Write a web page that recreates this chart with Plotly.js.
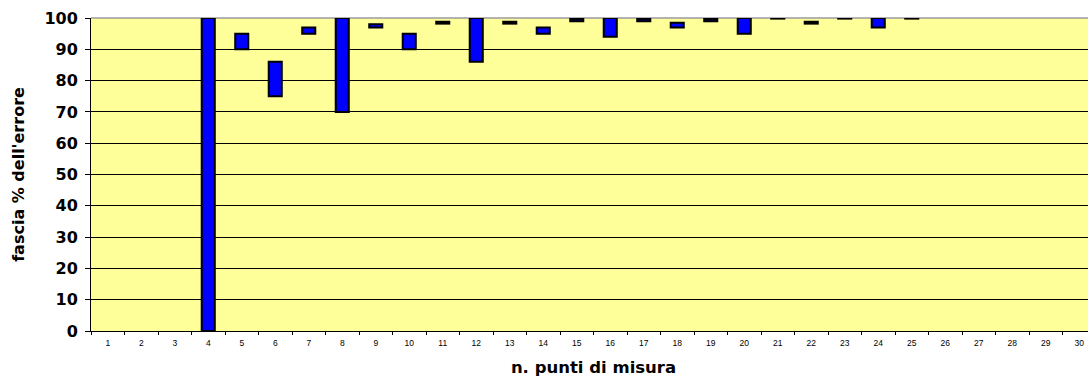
<!DOCTYPE html>
<html>
<head>
<meta charset="utf-8">
<script src="https://cdn.plot.ly/plotly-3.0.1.min.js"></script>
<style>
html, body { margin: 0; padding: 0; overflow: hidden; background: #fff; }
#chart { width: 1100px; height: 381px; }
</style>
</head>
<body>
<div id="chart"></div>
<script>
// n. punti di misura (categories)
var points = ["1","2","3","4","5","6","7","8","9","10","11","12","13","14","15","16","17","18","19","20","21","22","23","24","25","26","27","28","29","30"];
// lower end of error band (%)
var bandLow  = [null,null,null,0,90,75,95,70,97,90,98.2,86,98.2,95,99,94,99,97,99,95,99.8,98.2,99.8,97,99.8,null,null,null,null,null];
// upper end of error band (%)
var bandHigh = [null,null,null,100,95,86,97,100,98,95,98.8,100,98.8,97,99.7,100,99.7,98.5,99.7,100,100,98.8,100,100,100,null,null,null,null,null];
var yTicks = [0,10,20,30,40,50,60,70,80,90,100];

var heights = bandHigh.map(function(h, i){ return (h === null || bandLow[i] === null) ? null : h - bandLow[i]; });

var boldFont = 'DejaVu Sans, Liberation Sans, Arial, sans-serif';

var trace = {
  type: 'bar',
  x: points,
  y: heights,
  base: bandLow,
  width: 0.39,
  marker: { color: '#0000FF', line: { color: '#000000', width: 2 } },
  hoverinfo: 'x+y'
};

var layout = {
  width: 1100,
  height: 381,
  margin: { l: 91, r: 4, t: 18, b: 50 },
  paper_bgcolor: '#FFFFFF',
  plot_bgcolor: '#FFFF99',
  showlegend: false,
  font: { family: 'Liberation Sans, Arial, sans-serif', color: '#000' },
  xaxis: {
    type: 'category',
    categoryorder: 'array',
    categoryarray: points,
    range: [-0.5, 29.5],
    tickson: 'boundaries',
    ticks: 'outside',
    ticklen: 3,
    tickwidth: 1,
    tickcolor: '#000',
    showline: true,
    linecolor: '#000',
    linewidth: 1,
    showgrid: false,
    tickfont: { size: 8.5, family: 'Liberation Sans, Arial, sans-serif', color: '#000' },
    ticklabelstandoff: 4,
    title: { text: 'n. punti di misura', font: { size: 16.5, family: boldFont, weight: 'bold', color: '#000' }, standoff: 14 },
    automargin: false,
    fixedrange: true
  },
  yaxis: {
    range: [0, 100],
    tickmode: 'array',
    tickvals: yTicks,
    ticktext: yTicks.map(String),
    ticks: 'outside',
    ticklen: 5,
    tickwidth: 1,
    tickcolor: '#000',
    showline: true,
    linecolor: '#000',
    linewidth: 1,
    showgrid: true,
    gridcolor: '#000000',
    gridwidth: 1,
    zeroline: false,
    tickfont: { size: 16, family: boldFont, weight: 'bold', color: '#000' },
    ticklabelstandoff: 4,
    title: { text: "fascia % dell'errore", font: { size: 16, family: boldFont, weight: 'bold', color: '#000' }, standoff: 15 },
    automargin: false,
    fixedrange: true
  },
  shapes: [
    { type: 'line', xref: 'paper', yref: 'paper', x0: 0, x1: 1, y0: 1, y1: 1,
      line: { color: '#9a9aa0', width: 1.5 }, layer: 'between' }
  ],
  bargap: 0.6
};

Plotly.newPlot('chart', [trace], layout, { displayModeBar: false, staticPlot: true });
</script>
</body>
</html>
